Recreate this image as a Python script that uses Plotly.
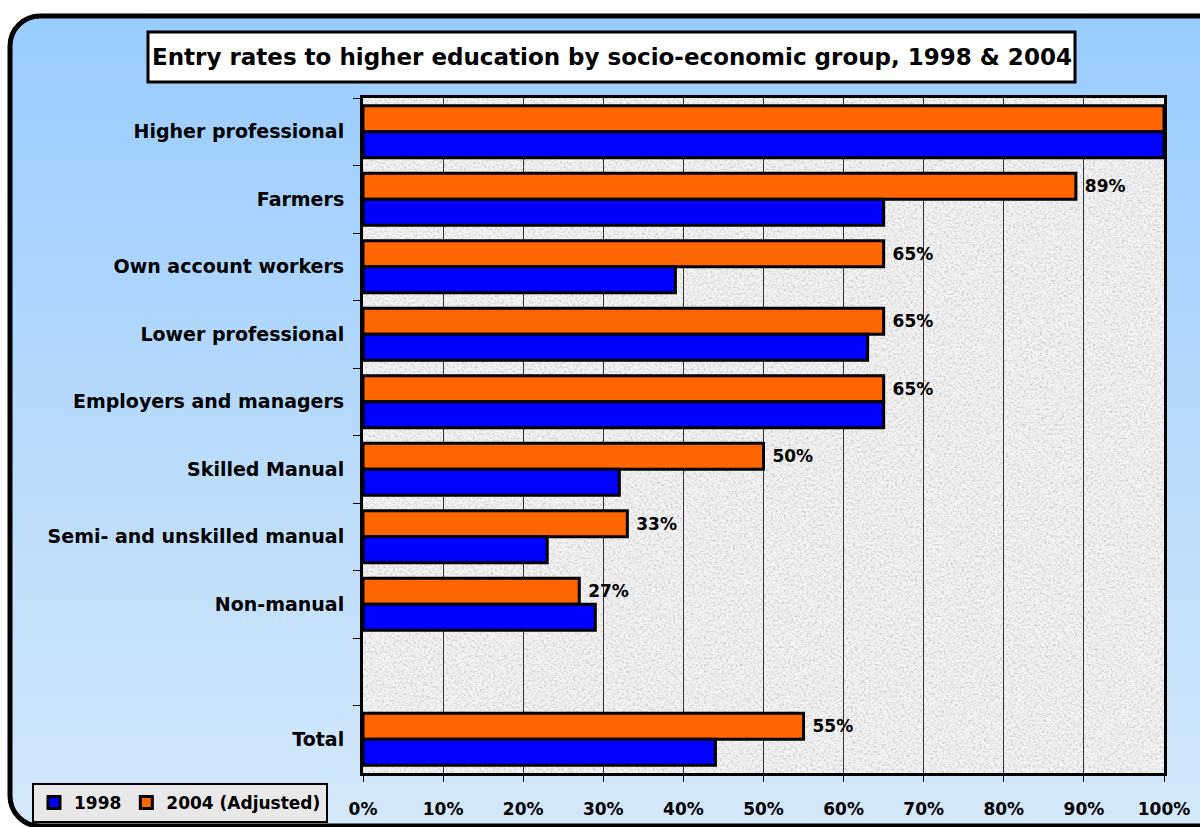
import base64
import plotly.graph_objects as go

categories = ["Higher professional", "Farmers", "Own account workers", "Lower professional",
              "Employers and managers", "Skilled Manual", "Semi- and unskilled manual",
              "Non-manual", " ", "Total"]
v1998 = [100, 65, 39, 63, 65, 32, 23, 29, None, 44]
v2004 = [100, 89, 65, 65, 65, 50, 33, 27, None, 55]
xticks = [0, 10, 20, 30, 40, 50, 60, 70, 80, 90, 100]
xtick_labels = [f"{t}%" for t in xticks]
title_text = "Entry rates to higher education by socio-economic group, 1998 & 2004"

W, H = 1200, 827
L, R, T, B = 363, 36, 98, 54
PW, PH = W - L - R, H - T - B

def px_x(x):
    return (x - L) / PW

def px_y(y):
    return 1 - (y - T) / PH

svg = f'''<svg xmlns="http://www.w3.org/2000/svg" width="{W}" height="{H}" viewBox="0 0 {W} {H}">
<defs>
<linearGradient id="g" x1="0" y1="0" x2="0" y2="1">
<stop offset="0" stop-color="#99CCFF"/><stop offset="1" stop-color="#D4E8FA"/></linearGradient>
<filter id="n" x="0" y="0" width="1" height="1">
<feTurbulence type="fractalNoise" baseFrequency="0.45" numOctaves="2" seed="7"/>
<feColorMatrix type="matrix" values="0 0 0 0 0.45  0 0 0 0 0.45  0 0 0 0 0.45  1.6 0 0 0 -0.72"/>
</filter>
</defs>
<rect x="0" y="0" width="{W}" height="{H}" fill="#FFFFFF"/>
<rect x="10" y="16" width="1230" height="810" rx="30" ry="30" fill="url(#g)" stroke="#000000" stroke-width="5"/>
<rect x="{L}" y="{T}" width="{PW}" height="{PH}" fill="#F3F3F3"/>
<rect x="{L}" y="{T}" width="{PW}" height="{PH}" fill="#FFFFFF" filter="url(#n)"/>
</svg>'''
svg_uri = "data:image/svg+xml;base64," + base64.b64encode(svg.encode()).decode()

labels2004 = [("" if (v is None or v >= 100) else f" {v}%") for v in v2004]

FONT = "DejaVu Sans"

fig = go.Figure()
fig.add_trace(go.Bar(
    y=categories, x=v2004, name="2004 (Adjusted)", orientation="h",
    marker=dict(color="#FF6600", line=dict(color="#000000", width=3)),
    text=labels2004, textposition="outside", cliponaxis=False,
    textfont=dict(family=FONT, size=17, color="#000000", weight="bold"),
))
fig.add_trace(go.Bar(
    y=categories, x=v1998, name="1998", orientation="h",
    marker=dict(color="#0000FF", line=dict(color="#000000", width=3)),
))

fig.update_layout(
    width=W, height=H,
    margin=dict(l=L, r=R, t=T, b=B, pad=0, autoexpand=False),
    paper_bgcolor="#FFFFFF",
    plot_bgcolor="rgba(0,0,0,0)",
    barmode="group", bargap=0.23, bargroupgap=0,
    font=dict(family=FONT, size=17, color="#000000"),
    showlegend=True,
    legend=dict(
        orientation="h", traceorder="reversed",
        x=px_x(32), y=px_y(783), xanchor="left", yanchor="top",
        bgcolor="#E8E8E8", bordercolor="#000000", borderwidth=2,
        font=dict(family=FONT, size=17, color="#000000", weight="bold"),
        itemwidth=30,
    ),
    images=[dict(
        source=svg_uri, xref="paper", yref="paper",
        x=-L / PW, y=1 + T / PH, sizex=W / PW, sizey=H / PH,
        xanchor="left", yanchor="top", sizing="stretch", layer="below",
    )],
    shapes=[dict(
        type="rect", xref="paper", yref="paper",
        x0=px_x(148), x1=px_x(1075), y0=px_y(82), y1=px_y(32),
        fillcolor="#FFFFFF", line=dict(color="#000000", width=3), layer="above",
    )],
    annotations=[dict(
        text=title_text, xref="paper", yref="paper",
        x=px_x(611.5), y=px_y(57), xanchor="center", yanchor="middle",
        showarrow=False, font=dict(family=FONT, size=23, color="#000000", weight="bold"),
    )],
)

fig.update_xaxes(
    range=[0, 100], tickvals=xticks, ticktext=xtick_labels,
    showgrid=True, gridcolor="#333333", gridwidth=1,
    showline=True, linecolor="#000000", linewidth=3, mirror=True,
    ticks="outside", ticklen=6, tickcolor="#000000", tickwidth=1,
    ticklabelstandoff=13, zeroline=False, automargin=False,
    tickfont=dict(family=FONT, size=17, color="#000000", weight="bold"),
)
fig.update_yaxes(
    type="category", categoryorder="array", categoryarray=categories,
    autorange="reversed",
    showgrid=False, automargin=False,
    showline=True, linecolor="#000000", linewidth=3, mirror=True,
    ticks="outside", ticklen=7, tickcolor="#000000", tickwidth=1,
    tickson="boundaries", ticklabelstandoff=12,
    tickfont=dict(family=FONT, size=19, color="#000000", weight="bold"),
)

fig.write_html("out.html")
